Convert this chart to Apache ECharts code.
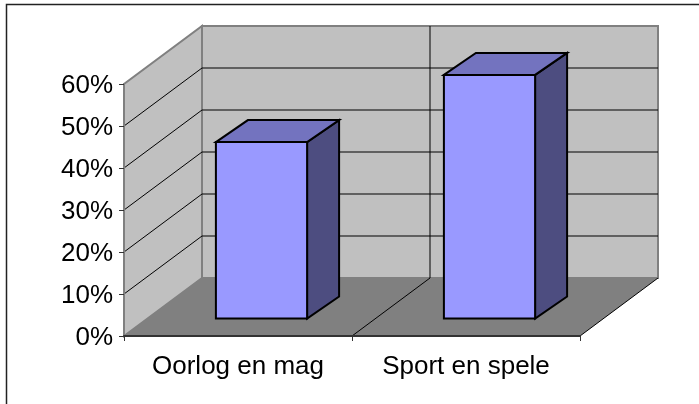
<!DOCTYPE html>
<html>
<head>
<meta charset="utf-8">
<style>
  html, body { margin: 0; padding: 0; background: #fff; }
  #chart { width: 699px; height: 404px; }
</style>
<script src="https://cdn.jsdelivr.net/npm/echarts@6/dist/echarts.min.js"></script>
</head>
<body>
<div id="chart"></div>
<script>
const categories = ['Oorlog en mag', 'Sport en spele']
const values = [0.42, 0.58]
const yTicks = [0.1, 0.2, 0.3, 0.4, 0.5, 0.6]

// fake 3d: offset of the back wall and of the bar faces, in pixels
const wallDx = 78
const wallDy = -58
const barDx = 23.5
const barDy = -17.5
const barDepthX = 32
const barDepthY = -22

function shift(p, dx, dy) {
  return [p[0] + dx, p[1] + dy]
}

function polygon(points, fill, stroke, lineWidth) {
  return {
    type: 'polygon',
    shape: { points },
    style: { fill, stroke: stroke || 'none', lineWidth: lineWidth || 0 }
  }
}

function line(p1, p2, stroke, lineWidth) {
  return {
    type: 'line',
    shape: { x1: p1[0], y1: p1[1], x2: p2[0], y2: p2[1] },
    style: { stroke, lineWidth }
  }
}

function renderWalls(params, api) {
  const halfBand = api.size([1, 0])[0] / 2
  const maxY = yTicks[yTicks.length - 1]
  const frontLeft = [api.coord([0, 0])[0] - halfBand, api.coord([0, 0])[1]]
  const topLeft = [frontLeft[0], api.coord([0, maxY])[1]]
  const frontRight = [api.coord([categories.length - 1, 0])[0] + halfBand, frontLeft[1]]
  const backLeft = shift(frontLeft, wallDx, wallDy)
  const backTop = shift(topLeft, wallDx, wallDy)
  const backRight = shift(frontRight, wallDx, wallDy)
  const backTopRight = [backRight[0], backTop[1]]
  return {
    type: 'group',
    children: [
      polygon([frontLeft, topLeft, backTop, backLeft], '#c0c0c0', '#808080', 2),
      polygon([backLeft, backTop, backTopRight, backRight], '#c0c0c0', '#808080', 2),
      polygon([frontLeft, backLeft, backRight, frontRight], '#808080')
    ]
  }
}

function renderGridLine(params, api) {
  const halfBand = api.size([1, 0])[0] / 2
  const p = api.coord([0, api.value(0)])
  const front = [p[0] - halfBand, p[1]]
  const back = shift(front, wallDx, wallDy)
  const right = [api.coord([categories.length - 1, 0])[0] + halfBand + wallDx, back[1]]
  return {
    type: 'group',
    children: [line(front, back, '#000', 1), line(back, right, '#000', 1)]
  }
}

function renderDivider(params, api) {
  const halfBand = api.size([1, 0])[0] / 2
  const base = api.coord([api.value(0), 0])
  const front = [base[0] + halfBand, base[1]]
  const back = shift(front, wallDx, wallDy)
  const children = [line(front, back, '#000', 1)]
  // the last edge closes the floor, only the inner ones climb the back wall
  if (api.value(0) < categories.length - 1) {
    const top = [back[0], api.coord([0, yTicks[yTicks.length - 1]])[1] + wallDy]
    children.push(line(back, top, '#000', 1))
  }
  return { type: 'group', children }
}

function renderBar(params, api) {
  const width = api.size([1, 0])[0] * 0.4
  const center = api.coord([api.value(0), 0])
  const bottomY = center[1] + barDy
  const topY = api.coord([api.value(0), api.value(1)])[1] + barDy
  const left = center[0] + barDx - width / 2
  const right = center[0] + barDx + width / 2
  const tl = [left, topY]
  const tr = [right, topY]
  const br = [right, bottomY]
  const bl = [left, bottomY]
  const tlBack = shift(tl, barDepthX, barDepthY)
  const trBack = shift(tr, barDepthX, barDepthY)
  const brBack = shift(br, barDepthX, barDepthY)
  return {
    type: 'group',
    children: [
      polygon([tr, trBack, brBack, br], '#4d4d80', '#000', 2),
      polygon([tl, tlBack, trBack, tr], '#7373bf', '#000', 2),
      polygon([tl, tr, br, bl], '#9999ff', '#000', 2)
    ]
  }
}

const chart = echarts.init(document.getElementById('chart'))

chart.setOption({
  animation: false,
  backgroundColor: '#fff',
  textStyle: { fontFamily: 'Liberation Sans' },
  graphic: [
    {
      type: 'rect',
      silent: true,
      shape: { x: 6.5, y: 4.5, width: 720, height: 420 },
      style: { fill: 'none', stroke: '#222', lineWidth: 1.5 }
    }
  ],
  grid: { left: 124, right: 119, top: 84, bottom: 68 },
  xAxis: {
    type: 'category',
    data: categories,
    z: 5,
    axisLine: { lineStyle: { color: '#333', width: 2 } },
    axisTick: { show: true, length: 5, lineStyle: { color: '#333' } },
    axisLabel: { color: '#000', fontSize: 26, margin: 18, interval: 0, fontFamily: 'Liberation Sans' }
  },
  yAxis: {
    type: 'value',
    min: 0,
    max: 0.6,
    interval: 0.1,
    z: 5,
    splitLine: { show: false },
    axisLine: { show: true, lineStyle: { color: '#808080', width: 2 } },
    axisTick: { show: true, length: 5, lineStyle: { color: '#333' } },
    axisLabel: {
      color: '#000',
      fontSize: 26,
      margin: 11,
      verticalAlign: 'top',
      lineHeight: 4,
      fontFamily: 'Liberation Sans',
      formatter: (v) => Math.round(v * 100) + '%'
    }
  },
  series: [
    {
      type: 'custom',
      name: 'walls',
      silent: true,
      clip: false,
      z: 1,
      renderItem: renderWalls,
      data: [[0]]
    },
    {
      type: 'custom',
      name: 'gridLines',
      silent: true,
      clip: false,
      z: 2,
      renderItem: renderGridLine,
      encode: { y: 0 },
      data: yTicks.slice(0, -1).map((v) => [v])
    },
    {
      type: 'custom',
      name: 'dividers',
      silent: true,
      clip: false,
      z: 2,
      renderItem: renderDivider,
      data: categories.map((c, i) => [i])
    },
    {
      type: 'custom',
      name: 'bars',
      silent: true,
      clip: false,
      z: 3,
      renderItem: renderBar,
      encode: { x: 0, y: 1 },
      data: values.map((v, i) => [i, v])
    }
  ]
})
</script>
</body>
</html>
